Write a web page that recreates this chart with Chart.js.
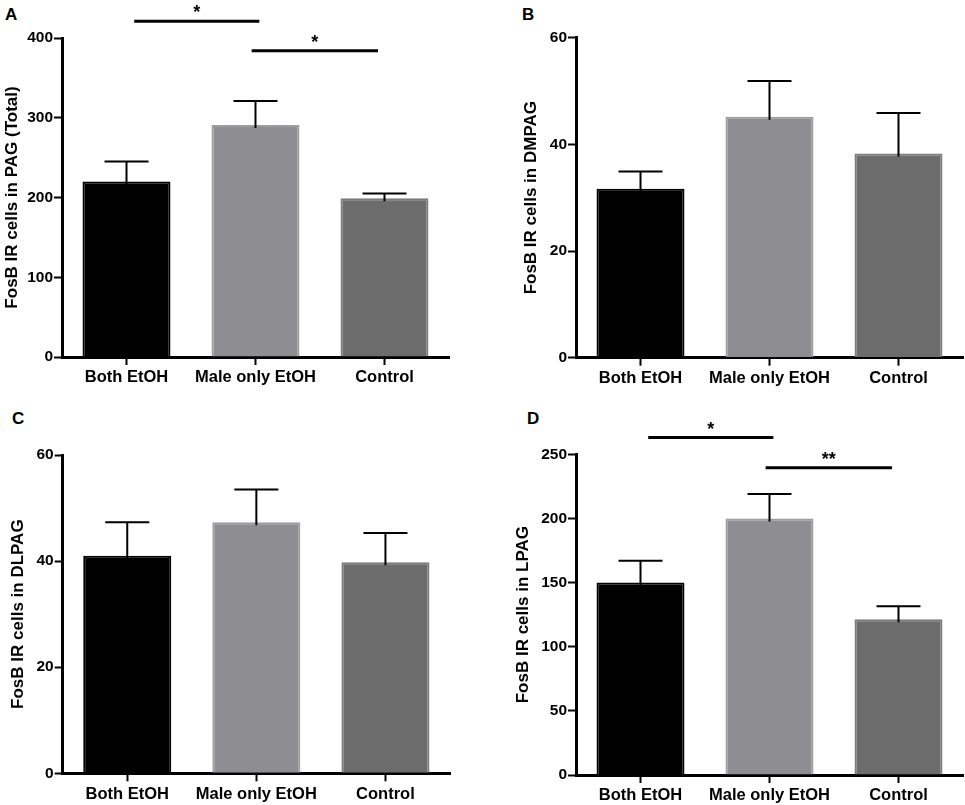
<!DOCTYPE html>
<html>
<head>
<meta charset="utf-8">
<script src="https://cdn.jsdelivr.net/npm/chart.js@4/dist/chart.umd.min.js"></script>
<style>
  html, body { margin: 0; padding: 0; background: #fff; }
  body { width: 965px; height: 805px; position: relative; overflow: hidden; font-family: "Liberation Sans", Arial, sans-serif; }
  .panel { position: absolute; }
  .letter { position: absolute; font: bold 17px "Liberation Sans", Arial, sans-serif; color: #000; line-height: 1; }
</style>
</head>
<body>
<div class="letter" style="left:5px;top:6px;">A</div>
<div class="letter" style="left:522px;top:6px;">B</div>
<div class="letter" style="left:12px;top:410px;">C</div>
<div class="letter" style="left:527px;top:410px;">D</div>

<div class="panel" style="left:0px;top:0px;width:450px;height:400px;"><canvas id="cA"></canvas></div>
<div class="panel" style="left:482px;top:0px;width:483px;height:400px;"><canvas id="cB"></canvas></div>
<div class="panel" style="left:0px;top:400px;width:451px;height:405px;"><canvas id="cC"></canvas></div>
<div class="panel" style="left:482px;top:400px;width:483px;height:405px;"><canvas id="cD"></canvas></div>

<script>
// ---- data ----
const categories = ['Both EtOH', 'Male only EtOH', 'Control'];
const barColors = ['#000000', '#8e8d92', '#6c6c6c'];
const barBorders = ['#000000', '#9d9ca1', '#7c7c7c'];

const pagTotalMean = [220, 291, 199];
const pagTotalSem  = [25, 30, 6];
const dmpagMean = [31.7, 45.2, 38.3];
const dmpagSem  = [3.2, 6.7, 7.6];
const dlpagMean = [41.0, 47.3, 39.8];
const dlpagSem  = [6.3, 6.2, 5.5];
const lpagMean = [150, 200, 121.5];
const lpagSem  = [17, 19, 10];

const yTitles = ['FosB IR cells in PAG (Total)', 'FosB IR cells in DMPAG', 'FosB IR cells in DLPAG', 'FosB IR cells in LPAG'];
const yMax = [400, 60, 60, 250];
const yStep = [100, 20, 20, 50];

// significance brackets: [fromIndex, toIndex, yValue, label]
const sigA = [[0.06, 1.03, 421, '*'], [0.97, 1.95, 384, '*']];
const sigD = [[0.06, 1.03, 263, '*'], [0.97, 1.95, 239.5, '**']];

const FONT = '"Liberation Sans", Arial, sans-serif';

const errPlugin = {
  id: 'errbars',
  afterDatasetsDraw(chart) {
    const ctx = chart.ctx;
    const ys = chart.scales.y, xs = chart.scales.x;
    const meta = chart.getDatasetMeta(0);
    const sem = chart.options.plugins.errbars.sem;
    const mean = chart.data.datasets[0].data;
    ctx.save();
    ctx.strokeStyle = '#000';
    ctx.lineWidth = 2;
    meta.data.forEach((bar, i) => {
      const x = bar.x;
      const yTop = ys.getPixelForValue(mean[i] + sem[i]);
      const yBar = ys.getPixelForValue(mean[i]) + 3;
      const half = bar.width / 4;
      ctx.beginPath();
      ctx.moveTo(x, yBar);
      ctx.lineTo(x, yTop);
      ctx.moveTo(x - half, yTop);
      ctx.lineTo(x + half, yTop);
      ctx.stroke();
    });
    const sig = chart.options.plugins.errbars.sig || [];
    ctx.lineWidth = 3;
    ctx.fillStyle = '#000';
    ctx.font = 'bold 18px ' + FONT;
    ctx.textAlign = 'center';
    ctx.textBaseline = 'alphabetic';
    sig.forEach(([a, b, v, lab]) => {
      const x1 = xs.getPixelForValue(a), x2 = xs.getPixelForValue(b);
      const y = ys.getPixelForValue(v);
      ctx.beginPath();
      ctx.moveTo(x1, y);
      ctx.lineTo(x2, y);
      ctx.stroke();
      ctx.fillText(lab, (x1 + x2) / 2, y - 3);
    });
    ctx.restore();
  }
};

function makeChart(id, idx, mean, sem, sig, pad, yW, xH) {
  return new Chart(document.getElementById(id), {
    type: 'bar',
    data: {
      labels: categories,
      datasets: [{
        data: mean,
        backgroundColor: barColors,
        borderColor: barBorders,
        borderWidth: 2,
        barPercentage: 0.682,
        categoryPercentage: 1.0
      }]
    },
    plugins: [errPlugin],
    options: {
      responsive: true,
      maintainAspectRatio: false,
      animation: false,
      layout: { padding: pad },
      plugins: {
        legend: { display: false },
        tooltip: { enabled: false },
        errbars: { sem: sem, sig: sig }
      },
      scales: {
        x: {
          grid: { display: true, offset: false, drawOnChartArea: false, drawTicks: true, tickLength: 8, tickWidth: 2, tickColor: '#000' },
          border: { display: true, color: '#000', width: 3 },
          ticks: { color: '#000', font: { family: FONT, size: 16.5, weight: 'bold' }, padding: 3, maxRotation: 0 },
          afterFit: (s) => { s.height = xH; }
        },
        y: {
          min: 0,
          max: yMax[idx],
          grid: { display: true, drawOnChartArea: false, drawTicks: true, tickLength: 8, tickWidth: 2, tickColor: '#000' },
          border: { display: true, color: '#000', width: 3 },
          ticks: { stepSize: yStep[idx], color: '#000', font: { family: FONT, size: 15.5, weight: 'bold' }, padding: 1 },
          title: { display: true, text: yTitles[idx], color: '#000', font: { family: FONT, size: 17, weight: 'bold' }, padding: { top: 2, bottom: 2 } },
          afterFit: (s) => { s.width = yW; }
        }
      }
    }
  });
}

makeChart('cA', 0, pagTotalMean, pagTotalSem, sigA, { left: 0, right: 1, top: 38, bottom: 0 }, 62, 43);
makeChart('cB', 1, dmpagMean, dmpagSem, [], { left: 37.5, right: 2, top: 37.7, bottom: 0 }, 56.5, 42.3);
makeChart('cC', 2, dlpagMean, dlpagSem, [], { left: 6, right: 1, top: 55, bottom: 0 }, 56.7, 31.7);
makeChart('cD', 3, lpagMean, lpagSem, sigD, { left: 29.3, right: 2, top: 54.3, bottom: 0 }, 64.7, 30);
</script>
</body>
</html>
